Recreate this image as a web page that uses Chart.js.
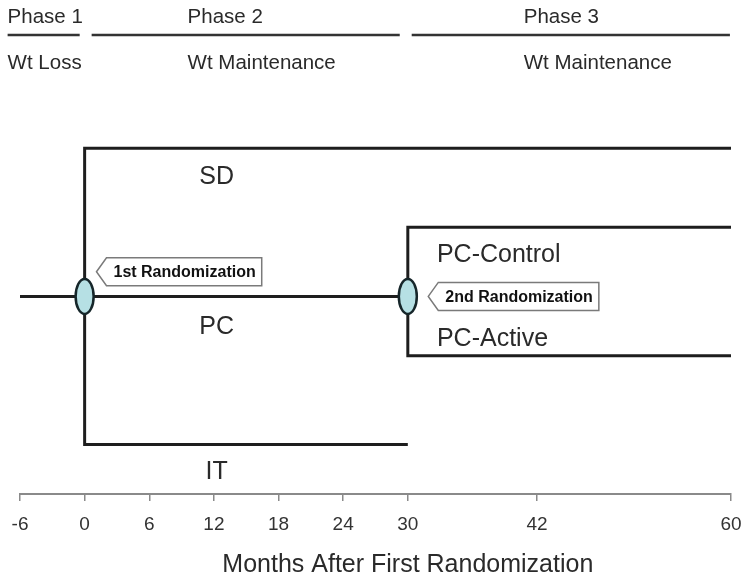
<!DOCTYPE html>
<html>
<head>
<meta charset="utf-8">
<script src="https://cdn.jsdelivr.net/npm/chart.js@4/dist/chart.umd.min.js"></script>
<style>
  html, body { margin: 0; padding: 0; background: #fff; }
  #wrap { width: 750px; height: 581px; }
</style>
</head>
<body>
<div id="wrap"><canvas id="diseno"></canvas></div>
<script>
// --- datos del diagrama (meses en x, nivel arbitrario en y) ---
const tickMeses = [-6, 0, 6, 12, 18, 24, 30, 42, 60];

// ramas del estudio: puntos [mes, nivel]
const ramaPC      = [[-6, 40], [30, 40]];
const ramaSD      = [[0, 40], [0, 70], [60, 70]];
const ramaIT      = [[0, 40], [0, 10], [30, 10]];
const ramaControl = [[30, 40], [30, 54], [60, 54]];
const ramaActivo  = [[30, 40], [30, 28], [60, 28]];

// etiquetas de las ramas
const etiquetasRama = ['SD', 'PC', 'IT', 'PC-Control', 'PC-Active'];
const etiquetasRamaX = [12.25, 12.25, 12.25, 32.7, 32.7];
const etiquetasRamaY = [64.6, 34.2, 4.9, 48.8, 31.8];
const etiquetasRamaAlign = ['center', 'center', 'center', 'left', 'left'];

// fases (cabecera)
const fases = ['Phase 1', 'Phase 2', 'Phase 3'];
const fasesDesc = ['Wt Loss', 'Wt Maintenance', 'Wt Maintenance'];
const fasesTextoX = [-7.15, 9.56, 40.76];
const fasesInicio = [-7.15, 0.65, 30.36];
const fasesFin = [-0.46, 29.25, 59.9];
const nivelFaseTexto = 96.8;
const nivelFaseLinea = 92.9;
const nivelFaseDesc = 87.4;

// aleatorizaciones
const aleatMes = [0, 30];
const aleatNivel = [40, 40];
const llamadas = ['1st Randomization', '2nd Randomization'];
const llamadasX = [1.1, 31.9];
const llamadasY = [45, 40];

const tituloEje = 'Months After First Randomization';
const tituloEjeX = 30;

const FUENTE = '"Liberation Sans", Arial, Helvetica, sans-serif';
const COLOR_LINEA = '#1e1e1e';
const COLOR_TEXTO = '#2a2a2a';
const AJUSTE_TEXTO = 2; // baja el texto para centrar visualmente las mayusculas

function aPuntos(arr) {
    return arr.map(p => ({ x: p[0], y: p[1] }));
}

function datasetLinea(arr, ancho) {
    return {
        data: aPuntos(arr),
        showLine: true,
        borderColor: COLOR_LINEA,
        borderWidth: ancho || 3,
        pointRadius: 0,
        pointHoverRadius: 0,
        fill: false,
        tension: 0,
        clip: false
    };
}

const datasets = [
    datasetLinea(ramaPC),
    datasetLinea(ramaSD),
    datasetLinea(ramaIT),
    datasetLinea(ramaControl),
    datasetLinea(ramaActivo)
];
// lineas de las fases
fases.forEach((f, i) => {
    const ds = datasetLinea([[fasesInicio[i], nivelFaseLinea], [fasesFin[i], nivelFaseLinea]], 2.5);
    ds.borderColor = '#333';
    datasets.push(ds);
});

// Plugin para textos, elipses y llamadas
const dibujoExtra = {
    id: 'dibujoExtra',
    afterDatasetsDraw(chart) {
        const ctx = chart.ctx;
        const sx = chart.scales.x;
        const sy = chart.scales.y;
        ctx.save();

        // cabecera de fases
        ctx.fillStyle = COLOR_TEXTO;
        ctx.textBaseline = 'middle';
        ctx.textAlign = 'left';
        ctx.font = '20.5px ' + FUENTE;
        fases.forEach((f, i) => {
            const px = sx.getPixelForValue(fasesTextoX[i]);
            ctx.fillText(f, px, sy.getPixelForValue(nivelFaseTexto) + AJUSTE_TEXTO);
            ctx.fillText(fasesDesc[i], px, sy.getPixelForValue(nivelFaseDesc) + 1);
        });

        // etiquetas de ramas
        ctx.font = '25px ' + FUENTE;
        etiquetasRama.forEach((t, i) => {
            ctx.textAlign = etiquetasRamaAlign[i];
            ctx.fillText(t, sx.getPixelForValue(etiquetasRamaX[i]), sy.getPixelForValue(etiquetasRamaY[i]) + AJUSTE_TEXTO);
        });

        // elipses de aleatorizacion
        aleatMes.forEach((m, i) => {
            const px = sx.getPixelForValue(m);
            const py = sy.getPixelForValue(aleatNivel[i]);
            ctx.beginPath();
            ctx.ellipse(px, py, 9, 17.5, 0, 0, Math.PI * 2);
            ctx.fillStyle = '#b6e0e4';
            ctx.fill();
            ctx.lineWidth = 2.5;
            ctx.strokeStyle = '#16262a';
            ctx.stroke();
        });

        // llamadas
        ctx.font = 'bold 16px ' + FUENTE;
        llamadas.forEach((t, i) => {
            const tx = sx.getPixelForValue(llamadasX[i]);
            const ty = sy.getPixelForValue(llamadasY[i]);
            const anchoTexto = ctx.measureText(t).width;
            const izq = tx + 10;
            const der = tx + 17 + anchoTexto + 6;
            const h = 14;
            ctx.beginPath();
            ctx.moveTo(tx, ty);
            ctx.lineTo(izq, ty - h);
            ctx.lineTo(der, ty - h);
            ctx.lineTo(der, ty + h);
            ctx.lineTo(izq, ty + h);
            ctx.closePath();
            ctx.fillStyle = '#fff';
            ctx.fill();
            ctx.lineWidth = 1.5;
            ctx.strokeStyle = '#7a7a7a';
            ctx.stroke();
            ctx.fillStyle = '#111';
            ctx.textAlign = 'left';
            ctx.fillText(t, tx + 17, ty + 1);
        });

        // titulo del eje
        ctx.font = '25px ' + FUENTE;
        ctx.fillStyle = COLOR_TEXTO;
        ctx.textAlign = 'center';
        ctx.fillText(tituloEje, sx.getPixelForValue(tituloEjeX), chart.chartArea.bottom + 71);

        ctx.restore();
    }
};

new Chart(document.getElementById('diseno'), {
    type: 'scatter',
    data: { datasets: datasets },
    options: {
        responsive: true,
        maintainAspectRatio: false,
        animation: false,
        events: [],
        layout: { padding: { left: 20, right: 19, top: 0, bottom: 0 } },
        plugins: {
            legend: { display: false },
            tooltip: { enabled: false },
            title: { display: false }
        },
        scales: {
            x: {
                type: 'linear',
                min: -6,
                max: 60,
                afterBuildTicks: (scale) => {
                    scale.ticks = tickMeses.map(v => ({ value: v }));
                },
                afterFit: (scale) => {
                    // espacio fijo bajo el eje para etiquetas y titulo
                    scale.height = 87;
                },
                grid: {
                    drawOnChartArea: false,
                    drawTicks: true,
                    tickLength: 7,
                    color: '#8a8a8a',
                    lineWidth: 1.5
                },
                border: { display: true, color: '#8a8a8a', width: 2 },
                ticks: {
                    autoSkip: false,
                    maxRotation: 0,
                    padding: 3,
                    color: '#333',
                    font: { family: FUENTE, size: 19, lineHeight: '41px' },
                    callback: (v) => String(v)
                }
            },
            y: {
                display: false,
                min: 0,
                max: 100
            }
        }
    },
    plugins: [dibujoExtra]
});
</script>
</body>
</html>
